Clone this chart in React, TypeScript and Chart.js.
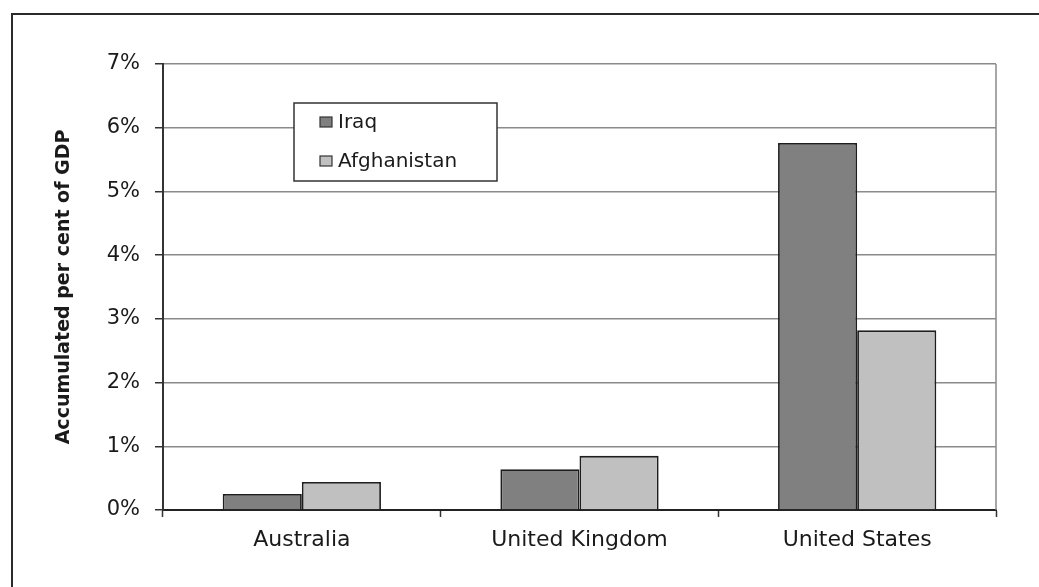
import React, { useEffect, useRef } from "react";
import { Chart, registerables } from "chart.js";

Chart.register(...registerables);

const categories = ["Australia", "United Kingdom", "United States"];
const iraq = [0.25, 0.64, 5.76];
const afghanistan = [0.44, 0.85, 2.82];
const seriesNames = ["Iraq", "Afghanistan"];
const yTicks = [0, 1, 2, 3, 4, 5, 6, 7];
const yTitle = "Accumulated per cent of GDP";

const FONT = "'DejaVu Sans', 'Liberation Sans', Arial, sans-serif";
const IRAQ_COLOR = "#808080";
const AFG_COLOR = "#c0c0c0";

const framePlugin = {
  id: "frameAndLegend",
  beforeDraw(chart: any) {
    const ctx = chart.ctx;
    ctx.save();
    ctx.fillStyle = "#ffffff";
    ctx.fillRect(0, 0, chart.width, chart.height);
    ctx.strokeStyle = "#2a2a2a";
    ctx.lineWidth = 2;
    ctx.beginPath();
    ctx.moveTo(12, chart.height + 5);
    ctx.lineTo(12, 14);
    ctx.lineTo(chart.width + 5, 14);
    ctx.stroke();
    ctx.restore();
  },
  afterDraw(chart: any) {
    const ctx = chart.ctx;
    const a = chart.chartArea;
    ctx.save();
    // right border of plot area
    ctx.strokeStyle = "#8a8a8a";
    ctx.lineWidth = 1.5;
    ctx.beginPath();
    ctx.moveTo(a.right, a.top);
    ctx.lineTo(a.right, a.bottom);
    ctx.stroke();
    // legend box
    const lx = 294, ly = 103, lw = 203, lh = 78;
    ctx.fillStyle = "#ffffff";
    ctx.fillRect(lx, ly, lw, lh);
    ctx.strokeStyle = "#333333";
    ctx.lineWidth = 1.5;
    ctx.strokeRect(lx, ly, lw, lh);
    const colors = [IRAQ_COLOR, AFG_COLOR];
    const rows = [122, 161];
    ctx.font = "20px " + FONT;
    ctx.textBaseline = "middle";
    ctx.textAlign = "left";
    seriesNames.forEach((name, i) => {
      const cy = rows[i];
      ctx.fillStyle = colors[i];
      ctx.fillRect(320, cy - 5, 12, 10);
      ctx.strokeStyle = "#333333";
      ctx.lineWidth = 1.2;
      ctx.strokeRect(320, cy - 5, 12, 10);
      ctx.fillStyle = "#1a1a1a";
      ctx.fillText(name, 338, cy + 1);
    });
    ctx.restore();
  },
};

export default function App() {
  const ref = useRef<HTMLCanvasElement>(null);
  useEffect(() => {
    if (!ref.current) return;
    const chart = new Chart(ref.current, {
      type: "bar",
      data: {
        labels: categories,
        datasets: [
          {
            label: seriesNames[0],
            data: iraq,
            backgroundColor: IRAQ_COLOR,
            borderColor: "#1e1e1e",
            borderWidth: 1.8,
          },
          {
            label: seriesNames[1],
            data: afghanistan,
            backgroundColor: AFG_COLOR,
            borderColor: "#1e1e1e",
            borderWidth: 1.8,
          },
        ],
      },
      plugins: [framePlugin],
      options: {
        responsive: false,
        animation: false,
        devicePixelRatio: 1,
        layout: { padding: { left: 0, top: 64, right: 43, bottom: 0 } },
        datasets: {
          bar: { categoryPercentage: 0.57, barPercentage: 1.0 },
        },
        plugins: {
          legend: { display: false },
          tooltip: { enabled: false },
          title: { display: false },
        },
        scales: {
          x: {
            offset: true,
            afterFit: (axis: any) => {
              axis.height = 77;
            },
            grid: {
              offset: true,
              drawOnChartArea: false,
              drawTicks: true,
              tickLength: 7,
              tickColor: "#333333",
              tickWidth: 1.5,
            },
            border: { display: true, color: "#222222", width: 2 },
            ticks: {
              color: "#1a1a1a",
              padding: 10,
              font: { family: FONT, size: 22 },
            },
          },
          y: {
            min: yTicks[0],
            max: yTicks[yTicks.length - 1],
            afterFit: (axis: any) => {
              axis.width = 163;
            },
            afterBuildTicks: (axis: any) => {
              axis.ticks = yTicks.map((v) => ({ value: v }));
            },
            grid: {
              color: "#8a8a8a",
              lineWidth: 1.5,
              drawTicks: true,
              tickLength: 8,
              tickColor: "#333333",
              tickWidth: 1.5,
            },
            border: { display: true, color: "#333333", width: 2 },
            ticks: {
              color: "#1a1a1a",
              padding: 15,
              font: { family: FONT, size: 21 },
              callback: (v: any) => v + "%",
            },
            title: {
              display: true,
              text: yTitle,
              color: "#1a1a1a",
              font: { family: FONT, size: 19, weight: "bold" },
              padding: { top: 53, bottom: 0 },
            },
          },
        },
      },
    });
    return () => chart.destroy();
  }, []);
  return (
    <div style={{ position: "absolute", left: 0, top: 0, width: 1039, height: 587 }}>
      <canvas ref={ref} width={1039} height={587} style={{ display: "block" }} />
    </div>
  );
}
